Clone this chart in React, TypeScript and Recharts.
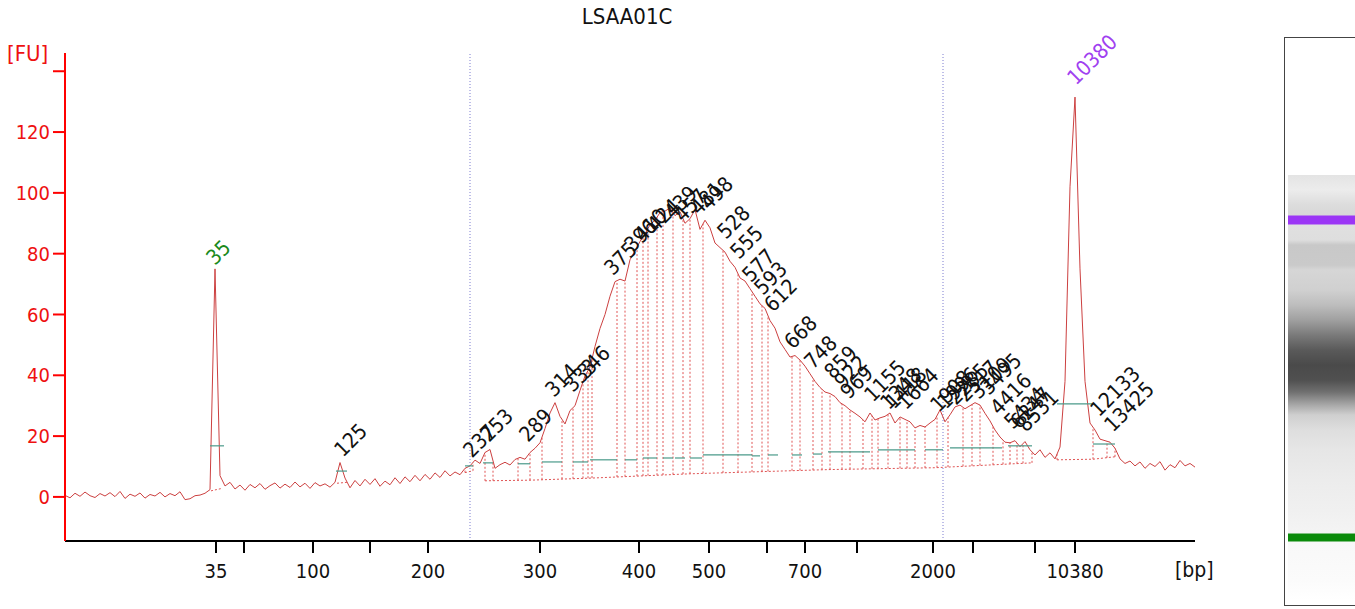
import React from 'react';
import { ComposedChart, Line, XAxis, YAxis, ReferenceLine, Scatter } from 'recharts';

// ---------- trace (migration time in s, fluorescence in FU) ----------
const START_S = 20;
const STEP_S = 0.5;
const fu: number[] = [
  0.5, -0.3, 1.2, 0.2, 1.6, 0.4, -0.2, 1.1, 0.3, 1.4,
  0.1, 1.8, -0.5, 0.9, 0.2, 1.3, -0.4, 0.8, 0.3, 1.5,
  0.0, 1.1, 0.4, 1.7, -0.9, -0.6, 0.4, 0.6, 1.2, 2.4,
  75.0, 7.0, 3.6, 4.8, 2.6, 3.9, 2.2, 4.1, 3.0, 4.4,
  2.5, 3.7, 4.6, 2.9, 4.2, 3.1, 4.9, 3.3, 4.5, 2.8,
  4.7, 3.6, 4.3, 3.2, 4.8, 11.3, 6.2, 3.0, 5.4, 3.6,
  5.8, 4.1, 6.0, 3.5, 5.2, 4.0, 6.3, 4.4, 6.6, 5.0,
  7.1, 5.3, 7.4, 5.8, 7.9, 6.4, 8.6, 6.9, 8.2, 7.3,
  9.4, 10.2, 12.1, 11.0, 14.6, 15.6, 9.4, 10.6, 11.4, 10.5,
  12.3, 13.0, 12.4, 14.6, 16.0, 17.8, 22.5, 27.6, 31.0, 26.5,
  24.0, 28.4, 30.0, 35.0, 39.8, 42.7, 49.5, 55.4, 60.0, 66.0,
  70.8, 71.6, 71.0, 78.0, 81.0, 84.0, 86.5, 89.5, 91.0, 93.5,
  94.0, 95.0, 92.5, 93.8, 90.0, 91.5, 94.5, 88.0, 91.0, 88.5,
  83.5, 82.0, 80.5, 77.5, 75.5, 72.0, 71.0, 68.5, 66.0, 63.5,
  62.0, 58.0, 55.5, 51.0, 48.5, 46.0, 46.5, 45.0, 43.0, 40.5,
  38.0, 36.0, 34.5, 34.0, 33.0, 31.0, 30.0, 28.6, 27.5, 26.3,
  24.7, 27.6, 25.3, 26.0, 26.5, 27.6, 24.3, 26.3, 25.5, 24.7,
  22.7, 23.5, 23.0, 24.3, 25.5, 28.6, 24.7, 27.0, 29.6, 30.2,
  29.0, 30.0, 31.0, 30.2, 27.5, 25.0, 22.0, 19.7, 18.0, 17.8,
  18.5, 16.5, 18.2, 15.5, 13.8, 15.5, 13.0, 14.5, 12.5, 16.4,
  38.0, 102.0, 131.5, 75.0, 38.0, 24.3, 22.0, 19.0, 18.5, 18.0,
  16.0, 12.5, 11.0, 11.8, 10.2, 11.5, 9.4, 11.0, 10.0, 11.6,
  8.8, 10.6, 9.6, 12.0, 10.2, 11.0, 9.8,
];

// ---------- axes ----------
const xTickTimes = [35.1, 37.9, 44.8, 50.5, 56.3, 67.5, 77.4, 84.4, 90.2, 94.0, 99.2, 106.8, 110.8, 117.0, 121.0];
const xTickLabels = ['35', '', '100', '', '200', '300', '400', '500', '', '700', '', '2000', '', '', '10380'];
const yTicks = [0, 20, 40, 60, 80, 100, 120, 140];
const yTickLabels = ['0', '20', '40', '60', '80', '100', '120', ''];
const regionMarkers = [60.5, 107.8];

// ---------- peak table: baselines (time, FU) ----------
const base35 = [[34.6, 2.0], [35.7, 2.8]];
const base125 = [[47.2, 4.5], [48.2, 4.8]];
const base237 = [[60.0, 8.0], [60.8, 8.6]];
const baseSmear = [[62.0, 5.3], [66.5, 5.5], [72.7, 6.2], [82.5, 7.6], [96.5, 9.0], [107.0, 9.6], [116.7, 11.2]];
const base10380 = [[119.2, 12.2], [122.8, 12.4], [125.0, 13.2]];
const basePieces = [base35, base125, base237, baseSmear, base10380];

// peak start / end times (dotted verticals)
const boundaryTimes = [
  60.0, 60.8, 62.0, 62.8, 65.3, 66.5, 67.7, 69.7, 70.8, 71.8, 72.3, 72.7,
  75.2, 76.0, 77.2, 77.8, 78.3, 79.2, 79.8, 80.8, 81.8, 82.5, 83.8, 85.8,
  87.3, 88.7, 89.7, 90.3, 92.7, 93.5, 94.8, 95.7, 96.5, 97.7, 98.5, 99.8,
  100.7, 101.3, 102.3, 103.5, 104.2, 105.0, 106.0, 107.2, 108.3, 109.8,
  110.7, 111.5, 112.8, 113.8, 114.5, 115.2, 115.8, 116.7, 119.2, 122.8, 124.2, 125.0,
];

// half-height width markers: start time, end time, FU
const widthStart = [34.5, 47.1, 60.0, 61.8, 65.3, 67.7, 70.8, 72.5, 76.0, 77.8, 79.8, 81.0, 82.5, 83.8, 88.7, 90.3, 92.7, 94.8, 96.3, 101.3, 106.0, 108.5, 114.3, 119.2, 122.8];
const widthEnd = [35.9, 48.2, 60.8, 62.8, 66.5, 69.7, 72.3, 75.2, 77.2, 79.2, 80.8, 82.0, 83.7, 88.7, 89.5, 91.3, 93.7, 95.7, 100.5, 105.0, 107.8, 113.7, 116.7, 122.7, 125.0];
const widthLevel = [16.8, 8.5, 10.2, 11.2, 10.9, 11.5, 11.5, 12.2, 12.2, 12.8, 12.8, 12.8, 12.8, 13.8, 13.5, 13.8, 13.8, 14.1, 14.8, 15.5, 15.5, 16.1, 16.8, 30.6, 17.4];

// peak size labels (bp) and where they sit
const peakText = ['35', '125', '237', '253', '289', '314', '333', '346', '375', '396', '410', '424', '439', '457', '481', '498', '528', '555', '577', '593', '612', '668', '748', '859', '922', '969', '1155', '1348', '1418', '1664', '1908', '1996', '2285', '2517', '3109', '3495', '4416', '5434', '6247', '8531', '10380', '12133', '13425'];
const peakTime = [34.4, 47.2, 60.1, 61.8, 65.7, 68.3, 70.2, 71.5, 74.2, 76.2, 77.2, 78.5, 80.2, 81.2, 82.8, 83.8, 85.5, 86.8, 88.0, 89.2, 90.2, 92.2, 94.2, 96.2, 97.2, 97.8, 100.2, 101.8, 102.3, 103.5, 106.8, 107.5, 108.5, 109.5, 110.8, 111.8, 112.8, 114.2, 114.8, 115.5, 120.5, 122.8, 124.2];
const peakFU = [76.9, 13.8, 13.5, 18.7, 18.7, 33.5, 35.2, 39.4, 73.6, 81.2, 84.5, 87.8, 92.0, 91.1, 93.4, 95.0, 85.5, 78.9, 71.3, 67.1, 61.5, 49.3, 42.7, 39.4, 36.2, 32.9, 31.9, 29.3, 29.6, 29.3, 28.6, 29.6, 30.9, 31.9, 32.9, 34.2, 27.6, 23.0, 23.0, 22.0, 136.1, 27.0, 22.0];
const peakKind = ['lower', '', '', '', '', '', '', '', '', '', '', '', '', '', '', '', '', '', '', '', '', '', '', '', '', '', '', '', '', '', '', '', '', '', '', '', '', '', '', '', 'upper', '', ''];

// gel lane (page y, shade)
const gelY = [175, 190, 205, 215, 216, 224, 225, 240, 245, 265, 270, 290, 305, 320, 335, 350, 365, 380, 392, 405, 415, 430, 450, 480, 510, 533, 534, 541, 542, 580, 600];
const gelShade = ['#e4e4e4', '#ececec', '#dcdcdc', '#d8d8d8', '#9b35f5', '#9b35f5', '#e0e0e0', '#dedede', '#c8c8c8', '#cacaca', '#d6d6d6', '#d0d0d0', '#bdbdbd', '#a0a0a0', '#7a7a7a', '#5a5a5a', '#4a4a4a', '#505050', '#707070', '#a8a8a8', '#cfcfcf', '#dedede', '#e6e6e6', '#ececec', '#f0f0f0', '#f4f4f4', '#0a8a0a', '#0a8a0a', '#f8f8f8', '#fbfbfb', '#ffffff'];

// ---------- derived ----------
const trace = fu.map((v, i) => ({ t: START_S + i * STEP_S, fu: v }));

function curveAt(t: number): number {
  const p = (t - START_S) / STEP_S;
  const i = Math.floor(p);
  const f = p - i;
  const a = fu[Math.max(0, Math.min(fu.length - 1, i))];
  const b = fu[Math.max(0, Math.min(fu.length - 1, i + 1))];
  return a + (b - a) * f;
}

function baseAt(t: number): number {
  for (const piece of basePieces) {
    for (let k = 0; k < piece.length - 1; k++) {
      const [t0, v0] = piece[k];
      const [t1, v1] = piece[k + 1];
      if (t >= t0 - 1e-6 && t <= t1 + 1e-6) {
        return v0 + ((v1 - v0) * (t - t0)) / (t1 - t0);
      }
    }
  }
  return 0;
}

const baselineData: { t: number; fu: number | null }[] = [];
basePieces.forEach((piece) => {
  piece.forEach(([t, v]) => baselineData.push({ t, fu: v }));
  baselineData.push({ t: piece[piece.length - 1][0] + 0.01, fu: null });
});

const labelData = peakText.map((s, i) => ({ t: peakTime[i], fu: peakFU[i], text: s, kind: peakKind[i] }));

const FONT = "'DejaVu Sans Condensed', 'DejaVu Sans', Verdana, sans-serif";

const LabelShape = (props: any) => {
  const { cx, cy, payload } = props;
  const color = payload.kind === 'lower' ? '#1a8a1a' : payload.kind === 'upper' ? '#a040f0' : '#111111';
  const x = cx + 6;
  const y = cy + 3;
  return (
    <text
      x={x}
      y={y}
      fill={color}
      fontSize={21}
      fontFamily={FONT}
      textAnchor="start"
      transform={`rotate(-45 ${x} ${y})`}
    >
      {payload.text}
    </text>
  );
};

const gelGradient = `linear-gradient(to bottom, ${gelY
  .map((y, i) => `${gelShade[i]} ${(((y - gelY[0]) / (gelY[gelY.length - 1] - gelY[0])) * 100).toFixed(2)}%`)
  .join(', ')})`;

export default function App() {
  return (
    <div
      style={{
        position: 'absolute',
        left: 0,
        top: 0,
        width: 1355,
        height: 609,
        background: '#ffffff',
        overflow: 'hidden',
        fontFamily: FONT,
      }}
    >
      <div style={{ position: 'absolute', left: 527, width: 200, top: 4, textAlign: 'center', fontSize: 22, color: '#111' }}>
        LSAA01C
      </div>
      <div style={{ position: 'absolute', left: 7, top: 41, fontSize: 22, color: '#ee1111' }}>[FU]</div>
      <div style={{ position: 'absolute', left: 1175, top: 558, fontSize: 21, color: '#111' }}>[bp]</div>

      <div style={{ position: 'absolute', left: 0, top: 0 }}>
        <ComposedChart
          width={1355}
          height={609}
          margin={{ top: 53, right: 160, bottom: 28, left: 10 }}
        >
          <XAxis
            dataKey="t"
            type="number"
            domain={[20, 133]}
            ticks={xTickTimes}
            interval={0}
            tickFormatter={(v: number) => xTickLabels[xTickTimes.indexOf(v)] ?? ''}
            height={40}
            tickSize={12}
            tickMargin={11}
            axisLine={{ stroke: '#000', strokeWidth: 2 }}
            tickLine={{ stroke: '#000', strokeWidth: 2 }}
            tick={{ fill: '#111', fontSize: 20, fontFamily: FONT }}
          />
          <YAxis
            type="number"
            domain={[-14.5, 146]}
            ticks={yTicks}
            interval={0}
            tickFormatter={(v: number) => yTickLabels[yTicks.indexOf(v)] ?? ''}
            width={55}
            tickSize={12}
            tickMargin={3}
            axisLine={{ stroke: '#ff0000', strokeWidth: 2 }}
            tickLine={{ stroke: '#ff0000', strokeWidth: 2 }}
            tick={{ fill: '#ee1111', fontSize: 20, fontFamily: FONT }}
          />
          {regionMarkers.map((t) => (
            <ReferenceLine key={`m${t}`} x={t} stroke="#7c7cd0" strokeWidth={1} strokeDasharray="1 2" />
          ))}
          <Line
            data={trace}
            dataKey="fu"
            type="linear"
            stroke="#cc4040"
            strokeWidth={1}
            dot={false}
            isAnimationActive={false}
          />
          <Line
            data={baselineData}
            dataKey="fu"
            type="linear"
            stroke="#e05555"
            strokeWidth={1}
            strokeDasharray="2 2"
            dot={false}
            connectNulls={false}
            isAnimationActive={false}
          />
          {boundaryTimes.map((t) => (
            <ReferenceLine
              key={`b${t}`}
              segment={[{ x: t, y: baseAt(t) }, { x: t, y: curveAt(t) }]}
              stroke="#e05555"
              strokeWidth={1}
              strokeDasharray="2 2"
            />
          ))}
          {widthStart.map((t, i) => (
            <ReferenceLine
              key={`w${i}`}
              segment={[{ x: t, y: widthLevel[i] }, { x: widthEnd[i], y: widthLevel[i] }]}
              stroke="#4a9a8a"
              strokeWidth={1.2}
            />
          ))}
          <Scatter data={labelData} dataKey="fu" shape={LabelShape} isAnimationActive={false} />
        </ComposedChart>
      </div>

      <div
        style={{
          position: 'absolute',
          left: 1284,
          top: 37,
          width: 80,
          height: 569,
          borderLeft: '1.5px solid #444',
          borderTop: '1.5px solid #444',
          borderBottom: '1.5px solid #444',
          boxSizing: 'border-box',
        }}
      />
      <div
        style={{
          position: 'absolute',
          left: 1288,
          top: gelY[0],
          width: 67,
          height: gelY[gelY.length - 1] - gelY[0],
          background: gelGradient,
        }}
      />
    </div>
  );
}
